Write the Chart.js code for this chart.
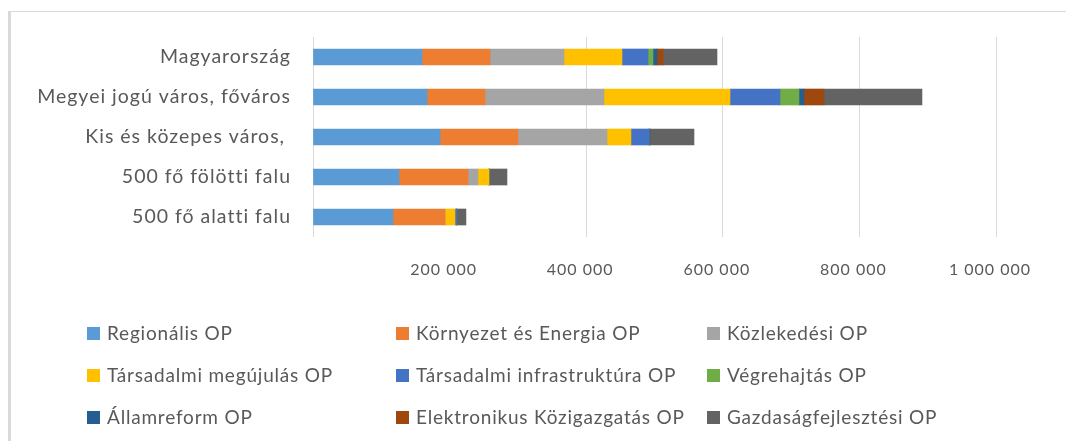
<!DOCTYPE html>
<html>
<head>
<meta charset="utf-8">
<script src="https://cdn.jsdelivr.net/npm/chart.js@4"></script>
<style>
  html, body { margin: 0; padding: 0; background: #fff; }
  #wrap { position: relative; width: 1066px; height: 441px; overflow: hidden; }
  #frame { position: absolute; left: 8px; top: 11px; width: 1070px; height: 440px;
           border-top: 1px solid #d9d9d9; border-left: 3px solid #d9d9d9; box-sizing: border-box; }
  #box { position: absolute; left: 0; top: 0; width: 1066px; height: 290px; }
  #legend { position: absolute; left: 0; top: 0; width: 1066px; height: 441px; pointer-events: none;
            font-family: Lato, sans-serif; font-size: 19px; letter-spacing: 0.8px; color: #595959; }
  .item { position: absolute; white-space: nowrap; line-height: 22px; }
  .item span.sw { position: absolute; width: 13px; height: 13px; top: 5px; }
</style>
</head>
<body>
<div id="wrap">
  <div id="frame"></div>
  <div id="box"><canvas id="chart"></canvas></div>
  <div id="legend"></div>
</div>
<script>
// categories (top to bottom)
var categories = ['Magyarország', 'Megyei jogú város, főváros', 'Kis és közepes város, ', '500 fő fölötti falu', '500 fő alatti falu'];

// series values (Ft / fő)
var regionalis   = [159600, 166900, 185900, 125900, 117100];
var kornyezet    = [99600, 84900, 114200, 101000, 76100];
var kozlekedesi  = [108300, 174200, 130300, 14600, 0];
var tarsMegujul  = [84900, 184500, 35100, 16100, 14600];
var tarsInfra    = [38100, 73200, 26400, 0, 2500];
var vegrehajtas  = [7300, 27800, 0, 0, 0];
var allamreform  = [5900, 7300, 1500, 0, 0];
var elektronikus = [8800, 29300, 0, 0, 0];
var gazdasag     = [79000, 143500, 64400, 26400, 13600];

var seriesNames = ['Regionális OP', 'Környezet és Energia OP', 'Közlekedési OP',
    'Társadalmi megújulás OP', 'Társadalmi infrastruktúra OP', 'Végrehajtás OP',
    'Államreform OP', 'Elektronikus Közigazgatás OP', 'Gazdaságfejlesztési OP'];
var seriesData = [regionalis, kornyezet, kozlekedesi, tarsMegujul, tarsInfra,
    vegrehajtas, allamreform, elektronikus, gazdasag];
var seriesColors = ['#5B9BD5', '#ED7D31', '#A5A5A5', '#FFC000', '#4472C4',
    '#70AD47', '#255E91', '#9E480E', '#636363'];

// x axis ticks
var xMax = 1000000;
var xStep = 200000;

var datasets = seriesNames.map(function (name, i) {
    return {
        label: name,
        data: seriesData[i],
        backgroundColor: seriesColors[i],
        borderWidth: 0,
        barThickness: 16
    };
});

// the original text is rather widely spaced
var spacing = {
    id: 'spacing',
    beforeUpdate: function (chart) { chart.ctx.letterSpacing = '1px'; },
    beforeLayout: function (chart) { chart.ctx.letterSpacing = '1px'; },
    beforeDraw: function (chart) { chart.ctx.letterSpacing = '1px'; }
};

var ctx = document.getElementById('chart');
var myChart = new Chart(ctx, {
    type: 'bar',
    data: { labels: categories, datasets: datasets },
    plugins: [spacing],
    options: {
        indexAxis: 'y',
        responsive: true,
        maintainAspectRatio: false,
        animation: false,
        layout: { padding: { top: 37, right: 70, left: 0, bottom: 0 } },
        plugins: { legend: { display: false }, tooltip: { enabled: false } },
        scales: {
            x: {
                stacked: true,
                min: 0,
                max: xMax,
                border: { display: false },
                grid: {
                    drawTicks: false,
                    color: function (c) {
                        // the 200 000 line is not drawn in the original
                        return c.tick && c.tick.value === 200000 ? 'rgba(0,0,0,0)' : '#d9d9d9';
                    }
                },
                ticks: {
                    stepSize: xStep,
                    padding: 23,
                    labelOffset: -6,
                    color: '#595959',
                    font: { family: 'Lato', size: 16 },
                    callback: function (v) {
                        if (v === 0) return '';
                        return v.toString().replace(/\B(?=(\d{3})+(?!\d))/g, ' ');
                    }
                },
                afterFit: function (scale) { scale.height = 53; }
            },
            y: {
                stacked: true,
                border: { display: false },
                grid: { display: false, drawTicks: false },
                ticks: {
                    padding: 22,
                    color: '#595959',
                    font: { family: 'Lato', size: 19.5 }
                },
                afterFit: function (scale) { scale.width = 313; }
            }
        }
    }
});

// legend, 3 columns
var legendCols = [87, 396, 707];
var legendRows = [333, 375, 417];
var legend = document.getElementById('legend');
seriesNames.forEach(function (name, i) {
    var col = i % 3, row = Math.floor(i / 3);
    var el = document.createElement('div');
    el.className = 'item';
    el.style.left = legendCols[col] + 'px';
    el.style.top = (legendRows[row] - 11) + 'px';
    el.style.paddingLeft = '20px';
    el.innerHTML = '<span class="sw" style="left:0;background:' + seriesColors[i] + '"></span>' + name;
    legend.appendChild(el);
});
</script>
</body>
</html>
